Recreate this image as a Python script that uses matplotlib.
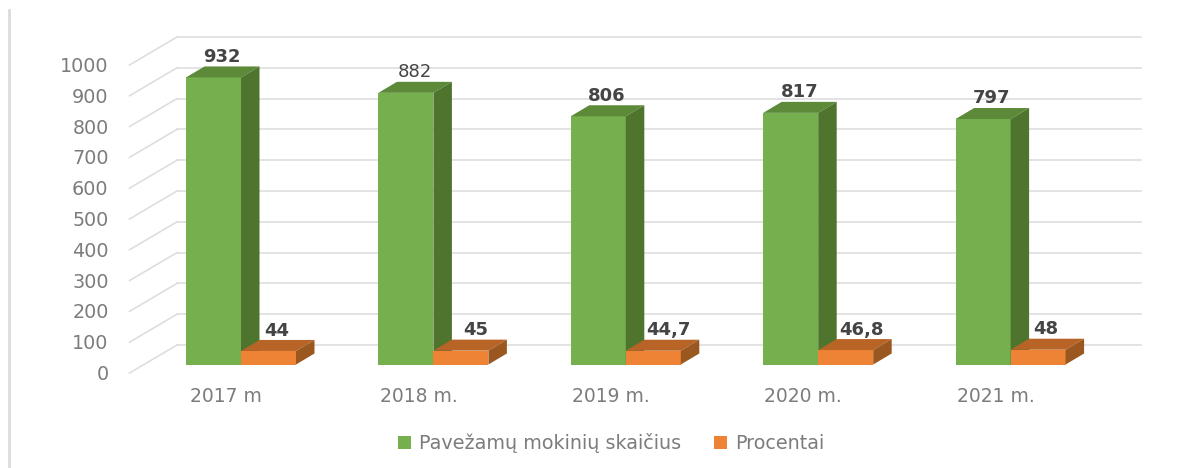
#!/usr/bin/env python3
# -*- coding: utf-8 -*-
import matplotlib
matplotlib.use('Agg')
import matplotlib.pyplot as plt
from matplotlib.patches import Polygon

# Data
categories = ['2017 m', '2018 m.', '2019 m.', '2020 m.', '2021 m.']
pupils = [932, 882, 806, 817, 797]
percent = [44, 45, 44.7, 46.8, 48]
percent_labels = ['44', '45', '44,7', '46,8', '48']
pupils_bold = [True, False, True, True, True]
y_ticks = [0, 100, 200, 300, 400, 500, 600, 700, 800, 900, 1000]

W, H = 1193, 468
GREEN, GREEN_TOP, GREEN_SIDE = '#76b04e', '#5c8a39', '#4e742e'
ORANGE, ORANGE_TOP, ORANGE_SIDE = '#ee8335', '#b86426', '#9a5720'
GRID = '#dedede'
TICK = '#7c7c7c'
LABEL = '#444444'

# pixels of the picture per data unit
px_x = 192.4   # one category
px_y = 0.308   # one pupil
x0 = 241.0     # pixel of first category centre
y0 = 364.5     # pixel of value 0 on the bar floor

fig = plt.figure(figsize=(W / 100, H / 100), dpi=100)
ax = fig.add_axes([0, 0, 1, 1])
ax.set_xlim(-x0 / px_x, (W - x0) / px_x)
ax.set_ylim(-(H - y0) / px_y, y0 / px_y)
ax.axis('off')

# depth of the bars and of the floor
bar_w = 55.0 / px_x
dx = 18.5 / px_x
dy = 11.0 / px_y
wall_dx = (177 - 241) / px_x, (129.5 - 241) / px_x, (1141 - 241) / px_x
back_dy = 19.5 / px_y
front_dy = -8.5 / px_y

# data labels of the orange bars do not sit at the same spot in each group (pixels)
pct_shift = [-1, 5, 6, 6, -2]

# gridlines on the back wall and the side wall
for v in y_ticks:
    ax.plot([wall_dx[0], wall_dx[2]], [v + back_dy, v + back_dy], color=GRID, lw=1.2, zorder=1)
    ax.plot([wall_dx[1], wall_dx[0]], [v + front_dy, v + back_dy], color=GRID, lw=1.2, zorder=1)
    ax.text(wall_dx[1] - 21 / px_x, v + front_dy - 1.5 / px_y, str(v), ha='right', va='center',
            fontsize=13.8, color=TICK)


def box(x, v, front, top, side, label, z):
    ax.bar(x, v, width=bar_w, align='edge', color=front, zorder=z, label=label)
    ax.add_patch(Polygon([(x, v), (x + dx, v + dy), (x + bar_w + dx, v + dy), (x + bar_w, v)],
                         color=top, lw=0, zorder=z))
    ax.add_patch(Polygon([(x + bar_w, 0), (x + bar_w + dx, dy), (x + bar_w + dx, v + dy), (x + bar_w, v)],
                         color=side, lw=0, zorder=z))


# green behind, the orange top lies over the lower part of the green side
for i in range(len(categories)):
    lab = 'Pavežamų mokinių skaičius' if i == 0 else None
    box(i - bar_w, pupils[i], GREEN, GREEN_TOP, GREEN_SIDE, lab, 3)
    ax.text(i - 19 / px_x, pupils[i] + dy + 2, str(pupils[i]), ha='center', va='bottom',
            fontsize=13, fontweight='bold' if pupils_bold[i] else 'normal', color=LABEL, zorder=5)
    ax.text(i - 15 / px_x, -(397 - y0) / px_y, categories[i], ha='center', va='center',
            fontsize=13.5, color=TICK)
for i in range(len(categories)):
    lab = 'Procentai' if i == 0 else None
    box(i, percent[i], ORANGE, ORANGE_TOP, ORANGE_SIDE, lab, 4)
    ax.text(i + (37 + pct_shift[i]) / px_x, percent[i] + dy + 1, percent_labels[i], ha='center', va='bottom',
            fontsize=13, fontweight='bold', color=LABEL, zorder=5)

# left rule of the frame
ax.plot([-(x0 - 8.5) / px_x] * 2, [(y0 - 10) / px_y, -(H - y0) / px_y], color='#dcdcdc', lw=2, zorder=1)

ax.legend(loc='center', bbox_to_anchor=(611 / W, 1 - 443 / H), ncol=2,
          frameon=False, fontsize=13.8, labelcolor=TICK, handlelength=0.68, handleheight=0.68,
          handletextpad=0.4, columnspacing=1.75)

fig.savefig('out.png', dpi=100)
